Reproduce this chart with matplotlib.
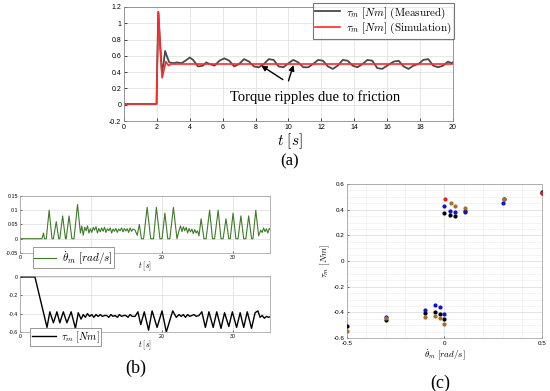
import numpy as np
import matplotlib
matplotlib.use("Agg")
import matplotlib.pyplot as plt

plt.rcParams['mathtext.fontset'] = 'cm'
plt.rcParams['font.family'] = ['Liberation Sans', 'DejaVu Sans']

# ---- panel (a): torque, measured vs simulation
t_meas = [0, 1.98, 2.0, 2.08, 2.18, 2.3, 2.4, 2.5, 2.6, 2.75, 3.0, 3.2, 3.5, 3.8, 4.0, 4.2, 4.5,
          4.8, 5.0, 5.2, 5.5, 5.8, 6.1, 6.4, 6.7, 7.0, 7.3, 7.6, 7.9, 8.2, 8.5, 8.8, 9.1, 9.4,
          9.7, 10.0, 10.3, 10.6, 10.9, 11.2, 11.5, 11.8, 12.1, 12.4, 12.7, 13.0, 13.3, 13.6,
          13.9, 14.2, 14.5, 14.8, 15.1, 15.4, 15.7, 16.0, 16.4, 16.7, 17.0, 17.3, 17.6, 17.9,
          18.2, 18.5, 18.8, 19.1, 19.4, 19.7, 19.9, 20.0]
y_meas = [0.01, 0.01, 0.3, 1.14, 0.8, 0.4, 0.5, 0.66, 0.6, 0.52, 0.51, 0.52, 0.51, 0.55, 0.58,
          0.55, 0.47, 0.48, 0.52, 0.5, 0.48, 0.54, 0.57, 0.54, 0.47, 0.5, 0.56, 0.53, 0.47,
          0.46, 0.5, 0.56, 0.55, 0.47, 0.46, 0.51, 0.55, 0.52, 0.46, 0.46, 0.5, 0.55, 0.54,
          0.47, 0.44, 0.48, 0.55, 0.54, 0.48, 0.46, 0.5, 0.55, 0.54, 0.45, 0.44, 0.48, 0.53,
          0.54, 0.47, 0.44, 0.48, 0.5, 0.55, 0.56, 0.48, 0.46, 0.48, 0.53, 0.51, 0.52]
t_sim = [0, 1.98, 2.0, 2.1, 2.2, 2.32, 2.45, 2.55, 2.7, 2.85, 20.0]
y_sim = [0.01, 0.01, 0.3, 1.13, 0.7, 0.33, 0.45, 0.53, 0.48, 0.5, 0.5]

# ---- panel (b): velocity and torque vs time
t_vel = [0, 3.1, 3.3, 3.45, 3.7, 4.1, 4.5, 4.7, 5.1, 5.45, 5.6, 6.0, 6.4, 6.5, 6.9, 7.3,
         7.6, 8.1, 8.5, 8.7, 8.9, 9.1, 9.3, 9.5, 9.7, 9.9, 10.1, 10.3, 10.5, 10.7, 10.9, 11.1,
         11.3, 11.5, 11.7, 11.9, 12.1, 12.3, 12.5, 12.7, 12.9, 13.1, 13.3, 13.5, 13.7, 13.9,
         14.1, 14.3, 14.5, 14.7, 14.9, 15.1, 15.3, 15.5, 15.7, 15.9, 16.2, 16.5, 16.8, 17.1,
         17.4, 17.9, 18.4, 18.8, 19.2, 19.7, 20.0, 20.4, 20.8, 21.1, 21.6, 22.1, 22.4, 22.6,
         22.8, 23.0, 23.2, 23.4, 23.6, 23.8, 24.0, 24.2, 24.4, 24.6, 24.8, 25.0, 25.2, 25.5,
         25.9, 26.2, 26.7, 27.1, 27.4, 27.9, 28.3, 28.6, 29.0, 29.4, 29.6, 30.0, 30.4, 30.7,
         31.1, 31.5, 31.8, 32.2, 32.6, 32.8, 33.2, 33.6, 33.9, 34.1, 34.3, 34.5, 34.7, 34.9,
         35.1, 35.3]
v_vel = [0, 0, 0.02, 0, 0, 0.1, 0, 0, 0.06, 0, 0, 0.08, 0, 0, 0.08, 0, 0, 0.12, 0.02,
         0.045, 0.012, 0.04, 0.028, 0.045, 0.02, 0.035, 0.022, 0.04, 0.03, 0.042, 0.02, 0.036,
         0.024, 0.038, 0.026, 0.04, 0.022, 0.035, 0.028, 0.038, 0.02, 0.034, 0.026, 0.036,
         0.022, 0.034, 0.028, 0.038, 0.024, 0.036, 0.027, 0.035, 0.022, 0.038, 0.026, 0.034,
         0.03, 0.012, 0.05, 0, 0, 0.11, 0, 0, 0.11, 0, 0, 0.09, 0, 0, 0.11, 0, 0.03, 0.045,
         0.025, 0.042, 0.028, 0.04, 0.02, 0.036, 0.024, 0.034, 0.018, 0.032, 0.02, 0.028, 0.01,
         0.07, 0, 0, 0.1, 0, 0, 0.1, 0, 0, 0.07, 0, 0, 0.09, 0, 0, 0.08, 0, 0, 0.08, 0, 0,
         0.1, 0.01, 0.03, 0.022, 0.038, 0.025, 0.035, 0.02, 0.036, 0.03]
t_trq = [0, 2.1, 3.8, 4.2, 4.7, 5.2, 5.6, 6.1, 6.6, 7.2, 7.8, 8.2, 8.6, 8.9, 9.2, 9.5, 9.8,
         10.1, 10.4, 10.7, 11.0, 11.3, 11.6, 11.9, 12.2, 12.5, 12.8, 13.1, 13.4, 13.7, 14.0,
         14.3, 14.6, 14.9, 15.2, 15.5, 15.8, 16.2, 16.6, 17.0, 17.5, 18.1, 18.6, 19.3, 20.0,
         20.6, 21.5, 22.0, 22.4, 22.7, 23.0, 23.3, 23.6, 23.9, 24.2, 24.5, 24.8, 25.2, 25.6,
         26.1, 26.6, 27.2, 27.7, 28.3, 28.8, 29.4, 29.9, 30.5, 31.0, 31.5, 32.0, 32.6, 33.1,
         33.5, 33.8, 34.1, 34.4, 34.7, 35.0, 35.3]
v_trq = [0, 0, -0.55, -0.38, -0.5, -0.38, -0.5, -0.38, -0.5, -0.38, -0.56, -0.39, -0.46,
         -0.41, -0.44, -0.4, -0.43, -0.41, -0.44, -0.41, -0.43, -0.41, -0.43, -0.42, -0.42,
         -0.44, -0.41, -0.43, -0.42, -0.44, -0.41, -0.43, -0.42, -0.42, -0.44, -0.41, -0.43,
         -0.43, -0.38, -0.52, -0.38, -0.58, -0.37, -0.55, -0.37, -0.6, -0.37, -0.44, -0.41,
         -0.43, -0.41, -0.44, -0.41, -0.43, -0.42, -0.41, -0.43, -0.42, -0.38, -0.55, -0.38,
         -0.55, -0.38, -0.56, -0.39, -0.54, -0.38, -0.55, -0.39, -0.55, -0.38, -0.56, -0.39,
         -0.37, -0.44, -0.42, -0.45, -0.43, -0.44, -0.43]

# ---- panel (c): friction map points
blk_x = [0.0, 0.029, 0.052, 0.103, 0.304, 0.5, -0.5, -0.302, -0.1, -0.048, -0.022, 0.0]
blk_y = [0.376, 0.358, 0.353, 0.387, 0.48, 0.538, -0.506, -0.457, -0.402, -0.397, -0.415, -0.449]
blu_x = [0.0, 0.029, 0.052, 0.103, 0.30, 0.5, -0.302, -0.1, -0.048, -0.022, 0.0]
blu_y = [0.428, 0.389, 0.384, 0.38, 0.449, 0.527, -0.436, -0.384, -0.342, -0.358, -0.41]
brn_x = [0.034, 0.052, 0.103, 0.304, -0.5, -0.302, -0.1, -0.048, -0.022, 0.0]
brn_y = [0.449, 0.428, 0.415, 0.485, -0.545, -0.447, -0.436, -0.431, -0.444, -0.488]
red_x = [0.003, 0.5]
red_y = [0.486, 0.532]

fig = plt.figure(figsize=(5.5, 3.91), dpi=100)
gridc = '#dddddd'

# (a)
ax = fig.add_axes([0.2255, 0.6905, 0.598, 0.2916])
ax.plot(t_meas, y_meas, color='#4a4a4a', lw=1.3, label=r'$\tau_m\ [Nm]\ \mathrm{(Measured)}$')
ax.plot(t_sim, y_sim, color='#ff2a2a', lw=1.2, label=r'$\tau_m\ [Nm]\ \mathrm{(Simulation)}$')
ax.set_xlim(0, 20)
ax.set_ylim(-0.2, 1.2)
ax.set_xticks(np.arange(0, 21, 2))
ax.set_yticks([-0.2, 0, 0.2, 0.4, 0.6, 0.8, 1.0, 1.2])
ax.set_yticklabels(['-0.2', '0', '0.2', '0.4', '0.6', '0.8', '1', '1.2'])
ax.tick_params(labelsize=5, length=2, width=0.5, pad=2, direction='in')
ax.grid(color=gridc, lw=0.5)
for s in ax.spines.values():
    s.set_color('#888888'); s.set_linewidth(0.6)
leg = ax.legend(loc='upper right', bbox_to_anchor=(1.003, 1.035), fontsize=8, frameon=True,
                fancybox=False, edgecolor='#555555', handlelength=2.3, borderpad=0.2,
                labelspacing=0.05, handletextpad=0.5, borderaxespad=0)
leg.get_frame().set_linewidth(0.8)
ax.annotate('', xy=(8.2, 0.5), xytext=(9.8, 0.29),
            arrowprops=dict(arrowstyle='-|>', color='black', lw=1.0, mutation_scale=8))
ax.annotate('', xy=(10.35, 0.52), xytext=(9.95, 0.26),
            arrowprops=dict(arrowstyle='-|>', color='black', lw=1.0, mutation_scale=8))
ax.text(11.6, 0.09, 'Torque ripples due to friction', ha='center', va='center',
        fontsize=10.5, family='Liberation Serif')
fig.text(0.527, 1 - 141 / 391, r'$t\ [s]$', ha='center', va='center', fontsize=11)
fig.text(0.527, 1 - 161 / 391, '(a)', ha='center', va='center', fontsize=12,
         family='Liberation Serif')

# (b) top
ax1 = fig.add_axes([0.0364, 0.353, 0.4545, 0.1458])
ax1.plot(t_vel, v_vel, color='#3f7a2a', lw=0.8, label=r'$\dot{\theta}_m\ [rad/s]$')
ax1.set_xlim(0, 35.2)
ax1.set_ylim(-0.05, 0.15)
ax1.set_xticks([0, 10, 20, 30])
ax1.set_xticklabels(['0', '', '20', '30'])
ax1.set_yticks([-0.05, 0, 0.05, 0.1, 0.15])
ax1.set_yticklabels(['-0.05', '0', '0.05', '0.1', '0.15'])
ax1.set_xlabel(r'$t\ [s]$', fontsize=5.5, labelpad=0)
ax1.tick_params(labelsize=3.8, length=1.5, width=0.4, pad=1.5, direction='in')
ax1.grid(color=gridc, lw=0.5)
for s in ax1.spines.values():
    s.set_color('#999999'); s.set_linewidth(0.5)
lg1 = ax1.legend(loc='upper left', bbox_to_anchor=(0.05, 0.1), fontsize=8, fancybox=False,
                 edgecolor='#888888', framealpha=1, handlelength=2.0, borderpad=0.15,
                 handletextpad=0.5, borderaxespad=0)
lg1.get_frame().set_linewidth(0.6)

# (b) bottom
ax2 = fig.add_axes([0.0364, 0.1509, 0.4545, 0.1432])
ax2.plot(t_trq, v_trq, color='black', lw=1.0, label=r'$\tau_m\ [Nm]$')
ax2.set_xlim(0, 35.2)
ax2.set_ylim(-0.6, 0.01)
ax2.set_xticks([0, 10, 20, 30])
ax2.set_xticklabels(['0', '', '20', '30'])
ax2.set_yticks([-0.6, -0.4, -0.2, 0])
ax2.set_yticklabels(['-0.6', '-0.4', '-0.2', '0'])
ax2.set_xlabel(r'$t\ [s]$', fontsize=5.5, labelpad=0)
ax2.tick_params(labelsize=3.8, length=1.5, width=0.4, pad=1.5, direction='in')
ax2.grid(color=gridc, lw=0.5)
for s in ax2.spines.values():
    s.set_color('#999999'); s.set_linewidth(0.5)
lg2 = ax2.legend(loc='upper left', bbox_to_anchor=(0.04, 0.08), fontsize=7.5, fancybox=False,
                 edgecolor='#888888', framealpha=1, handlelength=2.3, borderpad=0.15,
                 handletextpad=0.5, borderaxespad=0)
lg2.get_frame().set_linewidth(0.6)
fig.text(136 / 550, 1 - 368 / 391, '(b)', ha='center', va='center', fontsize=13,
         family='Liberation Serif')

# (c)
ax3 = fig.add_axes([0.6309, 0.1355, 0.3545, 0.3939])
ax3.scatter(blk_x, blk_y, s=4, color='black', zorder=3)
ax3.scatter(blu_x, blu_y, s=4, color='#1010d0', zorder=3)
ax3.scatter(brn_x, brn_y, s=4, color='#a0702a', zorder=3)
ax3.scatter(red_x, red_y, s=4, color='#e02020', zorder=3)
ax3.set_xlim(-0.5, 0.5)
ax3.set_ylim(-0.6, 0.6)
ax3.set_xticks([-0.5, 0, 0.5])
ax3.set_xticklabels(['-0.5', '0', '0.5'])
ax3.set_yticks([-0.6, -0.4, -0.2, 0, 0.2, 0.4, 0.6])
ax3.set_yticklabels(['-0.6', '-0.4', '-0.2', '0', '0.2', '0.4', '0.6'])
ax3.set_xticks(np.arange(-0.5, 0.51, 0.1), minor=True)
ax3.set_yticks(np.arange(-0.6, 0.61, 0.05), minor=True)
ax3.grid(which='major', color='#d8d8d8', lw=0.5)
ax3.grid(which='minor', color='#ececec', lw=0.4)
ax3.tick_params(which='both', labelsize=4.5, length=1.5, width=0.4, pad=2, direction='in')
ax3.tick_params(which='minor', length=0)
ax3.set_xlabel(r'$\dot{\theta}_m\ [rad/s]$', fontsize=6.5, labelpad=1)
ax3.set_ylabel(r'$\tau_m\ [Nm]$', fontsize=6.5, labelpad=1)
for s in ax3.spines.values():
    s.set_color('#999999'); s.set_linewidth(0.5)
fig.text(440 / 550, 1 - 383 / 391, '(c)', ha='center', va='center', fontsize=13,
         family='Liberation Serif')

fig.savefig('out.png', dpi=100)
